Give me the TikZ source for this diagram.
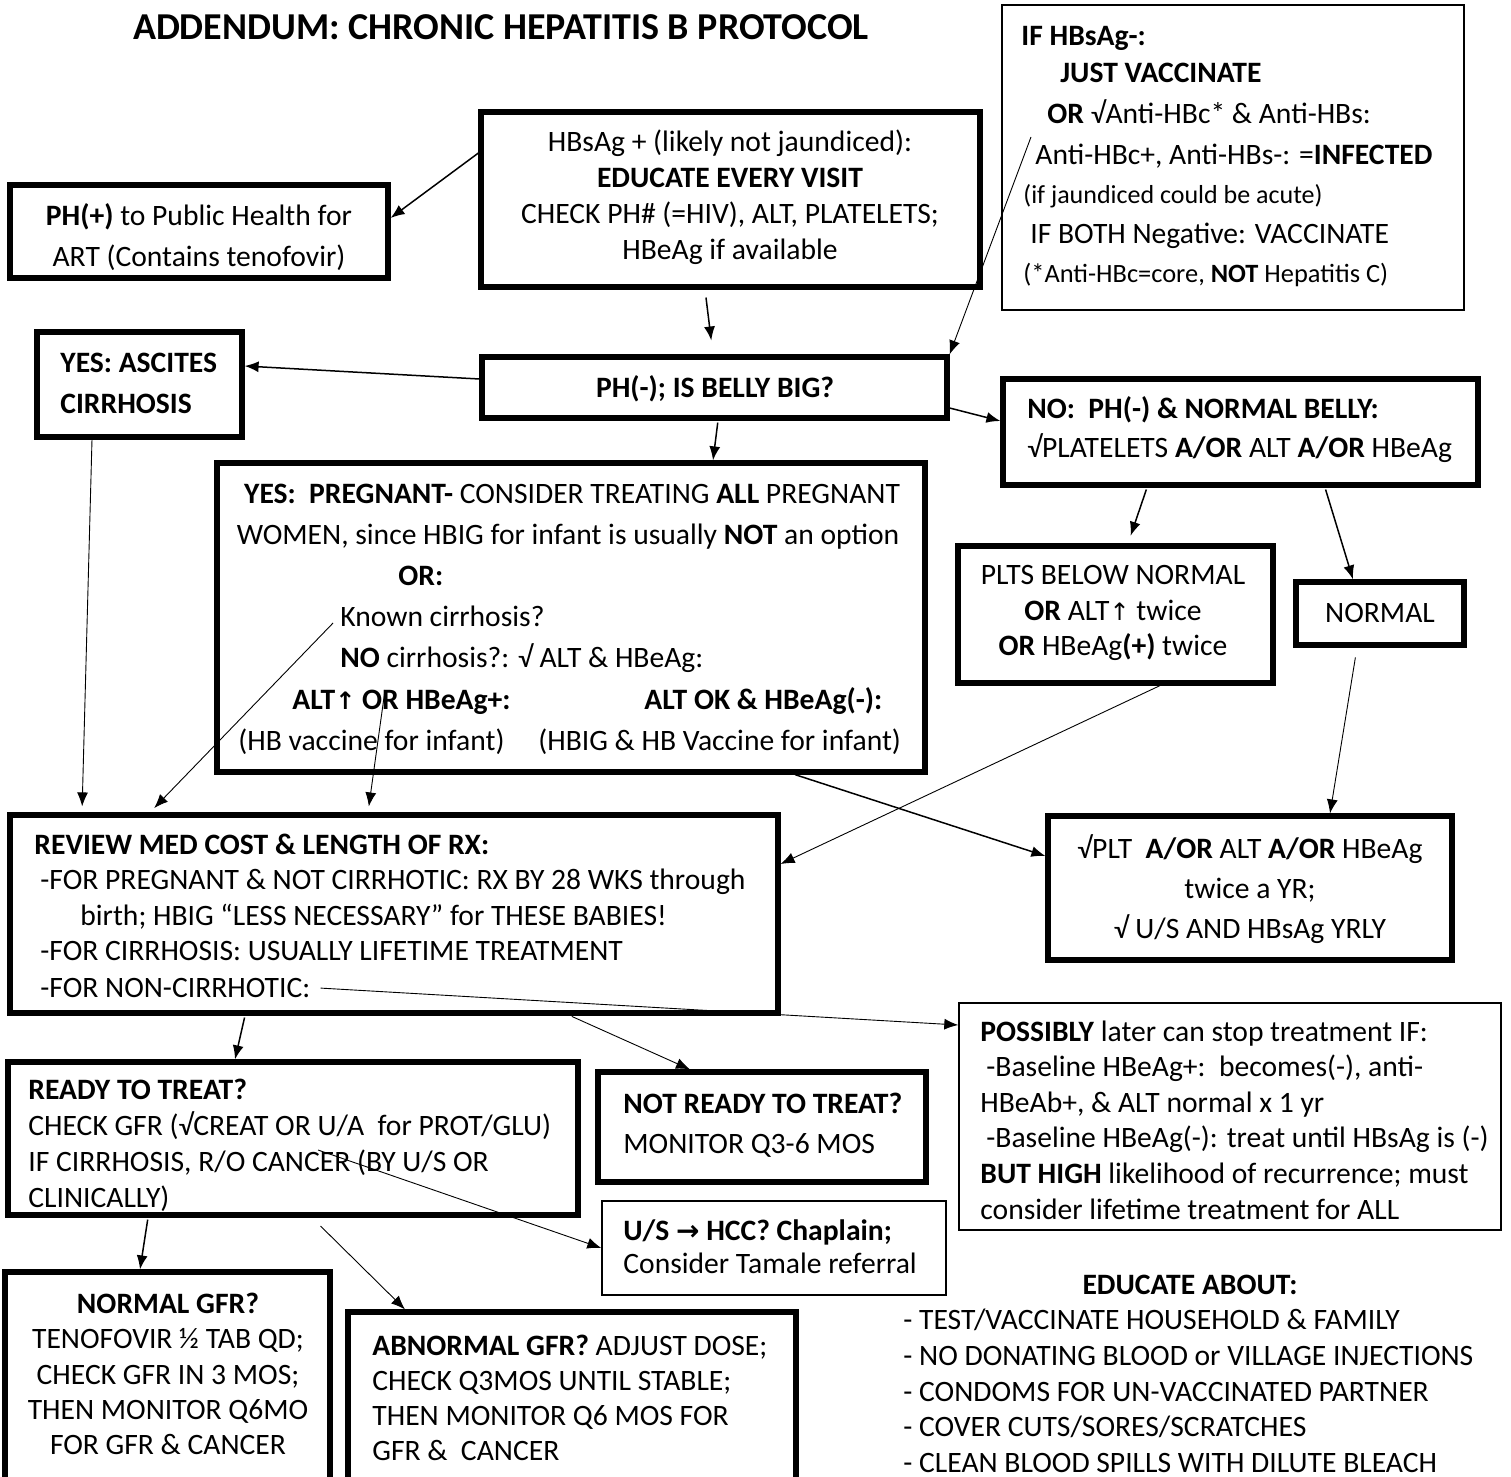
\documentclass[tikz,border=0pt]{standalone}
\usepackage{fontspec}
\setmainfont{Carlito}
\newfontfamily\symf{DejaVu Sans}
\newcommand{\uparr}{{\symf\fontsize{12}{14}\selectfont ↑}}
\newcommand{\rarr}{{\symf\fontsize{14}{16}\selectfont →}}
\usetikzlibrary{arrows.meta,fit}

\tikzset{
  thickbox/.style={draw, line width=2.6pt, inner sep=0pt},
  thinbox/.style={draw, line width=0.7pt, inner sep=0pt},
  ln/.style={anchor=base west, inner sep=0pt},
  lnc/.style={anchor=base, inner sep=0pt},
  blk/.style={anchor=west, align=left, inner sep=0pt, font=\fontsize{14.8}{#1}\selectfont},
  cblk/.style={align=center, inner sep=0pt, font=\fontsize{14.8}{#1}\selectfont},
  arr/.style={-{Latex[length=7pt,width=5.5pt]}, line width=0.75pt},
  tarr/.style={-{Latex[length=7pt,width=5.5pt]}, line width=0.45pt},
}

\begin{document}
\begin{tikzpicture}[x=0.5pt, y=-0.5pt, font=\fontsize{14.8}{18}\selectfont]
\useasboundingbox (0,0) rectangle (1511,1477);

%title
\node[font=\bfseries\fontsize{19}{22}\selectfont] (title) at (501,27) {ADDENDUM: CHRONIC HEPATITIS B PROTOCOL};

%boxes
\node[thinbox, fit={(1002,5) (1464,310)}] (neg) {};
\node[thickbox, fit={(481,112) (980,287)}] (hbs) {};
\node[thickbox, fit={(10,185) (388,278)}] (phpos) {};
\node[thickbox, fit={(37,332) (242,437)}] (asc) {};
\node[thickbox, fit={(482,357) (947,418)}] (phneg) {};
\node[thickbox, fit={(1003,379) (1478,485)}] (nobelly) {};
\node[thickbox, fit={(217,463) (925,772)}] (preg) {};
\node[thickbox, fit={(958,546) (1273,683)}] (plts) {};
\node[thickbox, fit={(1296,582) (1464,645)}] (normal) {};
\node[thickbox, fit={(10,815) (778,1013)}] (review) {};
\node[thickbox, fit={(1048,816) (1452,960)}] (vplt) {};
\node[thinbox, fit={(959,1003) (1501,1230)}] (poss) {};
\node[thickbox, fit={(8,1062) (578,1215)}] (ready) {};
\node[thickbox, fit={(598,1072) (926,1182)}] (notready) {};
\node[thinbox, fit={(602,1201) (946,1295)}] (us) {};
\node[thickbox, fit={(5,1272) (330,1500)}] (normgfr) {};
\node[thickbox, fit={(348,1312) (796,1500)}] (abn) {};

%HBsAg negative
\node[ln] (neg1) at (1021,46) {\textbf{IF HBsAg-:}};
\node[ln] (neg2) at (1060,83) {\textbf{JUST VACCINATE}};
\node[ln] (neg3) at (1047,124) {\textbf{OR} √Anti-HBc* \& Anti-HBs:};
\node[ln] (neg4) at (1035,165) {Anti-HBc+, Anti-HBs-: =\textbf{INFECTED}};
\node[ln, font=\fontsize{13}{16}\selectfont] (neg5) at (1023,204) {(if jaundiced could be acute)};
\node[ln] (neg6) at (1030,243) {IF BOTH Negative: VACCINATE};
\node[ln, font=\fontsize{13.2}{16}\selectfont] (neg7) at (1023,282) {(*Anti-HBc=core, \textbf{NOT} Hepatitis C)};

%top row
\node[cblk=18pt] (hbstxt) at (730,197) {HBsAg + (likely not jaundiced):\\\textbf{EDUCATE EVERY VISIT}\\CHECK PH\# (=HIV), ALT, PLATELETS;\\HBeAg if available};
\node[cblk=20.5pt] (phpostxt) at (199,237) {\textbf{PH(+)} to Public Health for\\ART (Contains tenofovir)};
\node[blk=20.5pt] (asctxt) at (60,383) {\textbf{YES: ASCITES}\\\textbf{CIRRHOSIS}};
\node (phnegtxt) at (715,389) {\textbf{PH(-); IS BELLY BIG?}};
\node[blk=19.5pt] (nobellytxt) at (1027,430) {\textbf{NO:\ \ PH(-) \& NORMAL BELLY:}\\√PLATELETS \textbf{A/OR} ALT \textbf{A/OR} HBeAg};

%pregnant
\node[lnc] (preg1) at (572,503) {\textbf{YES:\ \ PREGNANT-} CONSIDER TREATING \textbf{ALL} PREGNANT};
\node[lnc] (preg2) at (568,544) {WOMEN, since HBIG for infant is usually \textbf{NOT} an option};
\node[ln] (preg3) at (398,585) {\textbf{OR:}};
\node[ln] (known) at (340,626) {Known cirrhosis?};
\node[ln] (preg5) at (340,667) {\textbf{NO} cirrhosis?: √ ALT \& HBeAg:};
\node[ln] (altup) at (292,709) {\textbf{ALT\uparr\ OR HBeAg+:}};
\node[ln] (altok) at (644,709) {\textbf{ALT OK \& HBeAg(-):}};
\node[ln] (vacc) at (238,750) {(HB vaccine for infant)};
\node[ln] (hbig) at (538,750) {(HBIG \& HB Vaccine for infant)};

%right column
\node[cblk=17.75pt] (pltstxt) at (1113,613) {PLTS BELOW NORMAL\\\textbf{OR} ALT\uparr\ twice\\\textbf{OR} HBeAg\textbf{(+)} twice};
\node (normaltxt) at (1380,613) {NORMAL};
\node[cblk=20pt] (vplttxt) at (1250,889) {√PLT\ \ \textbf{A/OR} ALT \textbf{A/OR} HBeAg\\twice a YR;\\√ U/S AND HBsAg YRLY};

%review
\node[ln] (rev1) at (34,854) {\textbf{REVIEW MED COST \& LENGTH OF RX:}};
\node[ln] (rev2) at (40,889) {-FOR PREGNANT \& NOT CIRRHOTIC: RX BY 28 WKS through};
\node[ln] (rev3) at (80,925) {birth; HBIG “LESS NECESSARY” for THESE BABIES!};
\node[ln] (rev4) at (40,960) {-FOR CIRRHOSIS: USUALLY LIFETIME TREATMENT};
\node[ln] (noncirr) at (40,997) {-FOR NON-CIRRHOTIC:};

\node[blk=17.8pt] (posstxt) at (980,1120) {\textbf{POSSIBLY} later can stop treatment IF:\\\hspace*{3pt}-Baseline HBeAg+:\ \ becomes(-), anti-\\HBeAb+, \& ALT normal x 1 yr\\\hspace*{3pt}-Baseline HBeAg(-): treat until HBsAg is (-)\\\textbf{BUT HIGH} likelihood of recurrence; must\\consider lifetime treatment for ALL};

%treatment
\node[blk=18pt] (readytxt) at (28,1145) {\textbf{READY TO TREAT?}\\CHECK GFR (√CREAT OR U/A\ \ for PROT/GLU)\\IF CIRRHOSIS, R/O CANCER (BY U/S OR\\CLINICALLY)};
\node[blk=20pt] (notreadytxt) at (623,1125) {\textbf{NOT READY TO TREAT?}\\MONITOR Q3-6 MOS};
\node[blk=16.5pt] (ustxt) at (623,1247) {\textbf{U/S \rarr\ HCC? Chaplain;}\\Consider Tamale referral};
\node[cblk=17.6pt] (normgfrtxt) at (168,1374) {\textbf{NORMAL GFR?}\\TENOFOVIR ½ TAB QD;\\CHECK GFR IN 3 MOS;\\THEN MONITOR Q6MO\\FOR GFR \& CANCER};
\node[blk=17.5pt] (abntxt) at (372,1398) {\textbf{ABNORMAL GFR?} ADJUST DOSE;\\CHECK Q3MOS UNTIL STABLE;\\THEN MONITOR Q6 MOS FOR\\GFR \&\ \ CANCER};

%educate
\node[font=\bfseries\fontsize{14.8}{18}\selectfont] (edu) at (1190,1285) {EDUCATE ABOUT:};
\node[blk=17.8pt] (edulist) at (903,1391) {- TEST/VACCINATE HOUSEHOLD \& FAMILY\\- NO DONATING BLOOD or VILLAGE INJECTIONS\\- CONDOMS FOR UN-VACCINATED PARTNER\\- COVER CUTS/SORES/SCRATCHES\\- CLEAN BLOOD SPILLS WITH DILUTE BLEACH};

%line starts inside text
\coordinate (negstart) at (1031,137);
\coordinate (orstart) at (385,690);
\coordinate (cancstart) at (318,1150);

%arrows
\draw[arr] (hbs.west |- 0,153) -- (phpos.east |- 0,218);
\draw[arr, shorten <=4pt, shorten >=7pt] (hbs.south -| 705,0) -- (phneg.north -| 713,0);
\draw[tarr] (negstart) -- (phneg.north east);
\draw[arr] (phneg.west |- 0,379) -- (asc.east |- 0,366);
\draw[arr] (phneg.east |- 0,408) -- (nobelly.west |- 0,421);
\draw[arr, shorten <=1pt] (phneg.south -| 718,0) -- (preg.north -| 713,0);
\draw[arr, shorten <=1pt, shorten >=4pt] (nobelly.south -| 1147,0) -- (plts.north -| 1128,0);
\draw[arr, shorten <=1pt] (nobelly.south -| 1325,0) -- (normal.north -| 1353,0);
\draw[tarr, shorten >=3pt] (asc.south -| 92,0) -- (review.north -| 82,0);
\draw[tarr, shorten <=5pt, shorten >=3pt] (known.west) -- (review.north -| 150,0);
\draw[tarr, shorten >=3pt] (orstart) -- (review.north -| 368,0);
\draw[arr] (preg.south -| 795,0) -- (vplt.west |- 0,856);
\draw[tarr] (plts.south -| 1160,0) -- (review.east |- 0,864);
\draw[tarr, shorten <=5pt] (normal.south -| 1357,0) -- (vplt.north -| 1330,0);
\draw[tarr, shorten <=5pt] (noncirr.east) -- (poss.west |- 0,1025);
\draw[arr, shorten <=1pt] (review.south -| 245,0) -- (ready.north -| 235,0);
\draw[tarr, shorten <=1pt] (review.south -| 570,0) -- (notready.north -| 690,0);
\draw[tarr] (cancstart) -- (us.west |- 0,1248);
\draw[arr, shorten <=1pt] (ready.south -| 148,0) -- (normgfr.north -| 140,0);
\draw[tarr, shorten <=6pt] (ready.south -| 312,0) -- (abn.north -| 405,0);
\end{tikzpicture}
\end{document}
